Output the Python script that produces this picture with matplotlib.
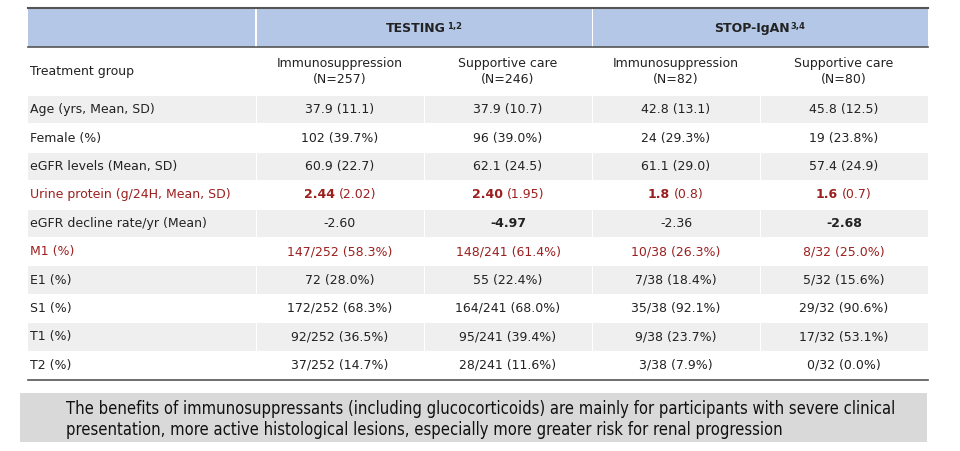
import matplotlib
matplotlib.use("Agg")
import matplotlib.pyplot as plt
from matplotlib.patches import Rectangle
from matplotlib.offsetbox import TextArea, HPacker, AnnotationBbox

# =========================
# DATA
# =========================

studies = ["TESTING", "STOP-IgAN"]
study_refs = ["1,2", "3,4"]
groups = ["Immunosuppression", "Supportive care", "Immunosuppression", "Supportive care"]
group_n = [257, 246, 82, 80]

row_labels = [
    "Age (yrs, Mean, SD)",
    "Female (%)",
    "eGFR levels (Mean, SD)",
    "Urine protein (g/24H, Mean, SD)",
    "eGFR decline rate/yr (Mean)",
    "M1 (%)",
    "E1 (%)",
    "S1 (%)",
    "T1 (%)",
    "T2 (%)",
]

age = ["37.9 (11.1)", "37.9 (10.7)", "42.8 (13.1)", "45.8 (12.5)"]
female = ["102 (39.7%)", "96 (39.0%)", "24 (29.3%)", "19 (23.8%)"]
egfr = ["60.9 (22.7)", "62.1 (24.5)", "61.1 (29.0)", "57.4 (24.9)"]
urine_mean = ["2.44", "2.40", "1.8", "1.6"]
urine_sd = ["2.02", "1.95", "0.8", "0.7"]
decline = ["-2.60", "-4.97", "-2.36", "-2.68"]
decline_bold = [False, True, False, True]
m1 = ["147/252 (58.3%)", "148/241 (61.4%)", "10/38 (26.3%)", "8/32 (25.0%)"]
e1 = ["72 (28.0%)", "55 (22.4%)", "7/38 (18.4%)", "5/32 (15.6%)"]
s1 = ["172/252 (68.3%)", "164/241 (68.0%)", "35/38 (92.1%)", "29/32 (90.6%)"]
t1 = ["92/252 (36.5%)", "95/241 (39.4%)", "9/38 (23.7%)", "17/32 (53.1%)"]
t2 = ["37/252 (14.7%)", "28/241 (11.6%)", "3/38 (7.9%)", "0/32 (0.0%)"]

note = ("The benefits of immunosuppressants (including glucocorticoids) are mainly for participants with severe clinical\n"
        "presentation, more active histological lesions, especially more greater risk for renal progression")

# =========================
# STYLE
# =========================

TXT = "#222222"
RED = "#9c1f1f"
HEAD = "#b4c7e7"
GRAY = "#efefef"
FS = 9

col_edges = [28, 256, 424, 592, 760, 928]
head_top, head_bot = 8, 47
group_bot = 95.5
row_h = 28.4

fig = plt.figure(figsize=(9.6, 4.51), dpi=100)
ax = fig.add_axes([0, 0, 1, 1])
ax.set_xlim(0, 960)
ax.set_ylim(451, 0)
ax.axis("off")

# header band
for i in range(2):
    x0, x1 = col_edges[1 + 2 * i], col_edges[3 + 2 * i]
    ax.add_patch(Rectangle((x0 + 1, head_top), x1 - x0 - 1, head_bot - head_top, color=HEAD, lw=0))
ax.add_patch(Rectangle((col_edges[0], head_top), col_edges[1] - col_edges[0] - 1, head_bot - head_top, color=HEAD, lw=0))
ax.plot([col_edges[0], col_edges[-1]], [head_top, head_top], color="#555555", lw=1.5)
ax.plot([col_edges[0], col_edges[-1]], [head_bot, head_bot], color="#555555", lw=1.2)

for i, (s, ref) in enumerate(zip(studies, study_refs)):
    cx = (col_edges[1 + 2 * i] + col_edges[3 + 2 * i]) / 2
    box = HPacker(children=[
        TextArea(s, textprops=dict(fontsize=FS, fontweight="bold", color=TXT)),
        TextArea(ref, textprops=dict(fontsize=6, fontweight="bold", color=TXT)),
    ], align="top", pad=0, sep=0.5)
    ax.add_artist(AnnotationBbox(box, (cx, (head_top + head_bot) / 2 + 1), frameon=False, pad=0))

# treatment group row
ax.text(30, (head_bot + group_bot) / 2, "Treatment group", fontsize=FS, color=TXT, va="center", ha="left")
for j, (g, n) in enumerate(zip(groups, group_n)):
    cx = (col_edges[j + 1] + col_edges[j + 2]) / 2
    ax.text(cx, (head_bot + group_bot) / 2, f"{g}\n(N={n})", fontsize=FS, color=TXT,
            va="center", ha="center", linespacing=1.3)

# data rows
rows = [age, female, egfr, None, None, m1, e1, s1, t1, t2]
for r, label in enumerate(row_labels):
    y0 = group_bot + r * row_h
    yc = y0 + row_h / 2
    if r % 2 == 0:
        for c in range(5):
            x0, x1 = col_edges[c], col_edges[c + 1]
            ax.add_patch(Rectangle((x0 + (1 if c else 0), y0 + 0.5), x1 - x0 - (1 if c else 0), row_h - 1,
                                   color=GRAY, lw=0))
    color = RED if r in (3, 5) else TXT
    ax.text(30, yc, label, fontsize=FS, color=color, va="center", ha="left")
    for j in range(4):
        cx = (col_edges[j + 1] + col_edges[j + 2]) / 2
        if r == 3:
            box = HPacker(children=[
                TextArea(urine_mean[j], textprops=dict(fontsize=FS, fontweight="bold", color=RED)),
                TextArea(f"({urine_sd[j]})", textprops=dict(fontsize=FS, color=RED)),
            ], align="baseline", pad=0, sep=3)
            ax.add_artist(AnnotationBbox(box, (cx, yc), frameon=False, pad=0))
        elif r == 4:
            ax.text(cx, yc, decline[j], fontsize=FS, color=TXT, va="center", ha="center",
                    fontweight="bold" if decline_bold[j] else "normal")
        else:
            ax.text(cx, yc, rows[r][j], fontsize=FS, color=color, va="center", ha="center")

table_bot = group_bot + len(row_labels) * row_h
ax.plot([col_edges[0], col_edges[-1]], [table_bot, table_bot], color="#555555", lw=1.2)

# note box
ax.add_patch(Rectangle((20, 393), 907, 49, color="#d9d9d9", lw=0))
ax.text(66, 419.5, note, fontsize=11.9, color="#111111", va="center", ha="left",
        family="DejaVu Sans", fontstretch="condensed", linespacing=1.15)

fig.savefig("out.png", dpi=100)
